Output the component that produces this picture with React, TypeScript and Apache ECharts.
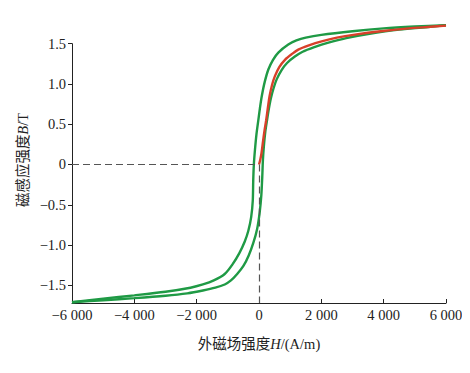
import React, { useEffect, useRef } from "react";
import * as echarts from "echarts";

// Descending branch of the hysteresis loop (H in A/m, B in T)
const upperH = [6000, 5000, 4000, 3000, 2000, 1500, 1200, 940, 620, 450, 300, 180, 90, 30, -20, -80, -130, -165, -185, -200, -250, -340, -460, -630, -850, -1100, -1450, -1800, -2200, -3000, -4000, -5000, -6000];
const upperB = [1.73, 1.713, 1.69, 1.655, 1.61, 1.575, 1.54, 1.49, 1.39, 1.3, 1.18, 1.02, 0.85, 0.7, 0.555, 0.38, 0.18, 0.0, -0.2, -0.45, -0.65, -0.82, -0.96, -1.1, -1.24, -1.36, -1.44, -1.49, -1.53, -1.58, -1.625, -1.665, -1.71];

// Ascending branch
const lowerH = [-6000, -5000, -4000, -3000, -2300, -1800, -1400, -1100, -900, -700, -500, -330, -180, -60, 20, 75, 105, 125, 155, 200, 260, 320, 380, 470, 570, 720, 900, 1150, 1400, 1800, 2200, 2800, 3500, 4500, 5500, 6000];
const lowerB = [-1.71, -1.685, -1.66, -1.63, -1.6, -1.565, -1.53, -1.49, -1.44, -1.36, -1.26, -1.13, -0.97, -0.8, -0.6, -0.38, -0.15, 0.05, 0.22, 0.4, 0.556, 0.7, 0.82, 0.95, 1.06, 1.17, 1.26, 1.34, 1.4, 1.46, 1.51, 1.57, 1.62, 1.675, 1.71, 1.73];

// Initial magnetization curve
const initH = [0, 40, 80, 130, 180, 230, 290, 340, 420, 513, 650, 833, 1050, 1260, 1600, 2010, 2500, 3077, 3900, 4800, 5500, 6000];
const initB = [0, 0.06, 0.14, 0.29, 0.43, 0.55, 0.72, 0.85, 0.99, 1.1, 1.21, 1.3, 1.37, 1.427, 1.48, 1.53, 1.575, 1.613, 1.655, 1.69, 1.71, 1.725];

const yTicks = [-1.5, -1.0, -0.5, 0, 0.5, 1.0, 1.5];
const X_MIN = -6000;
const X_MAX = 6000;
const Y_MIN = -1.72;
const Y_MAX = 1.5;

const zip = (h: number[], b: number[]) => h.map((v, i) => [v, b[i]]);

const FONT = "'Liberation Serif', 'Noto Sans CJK SC', serif";

const fmtX = (v: number) => {
  if (v === 0) return "0";
  const a = Math.abs(v);
  const s = a >= 1000 ? Math.floor(a / 1000) + " " + String(a % 1000).padStart(3, "0") : String(a);
  return (v < 0 ? "\u2212" : "") + s;
};
const fmtY = (v: number) => {
  if (v === 0) return "0";
  return (v < 0 ? "\u2212" : "") + Math.abs(v).toFixed(1);
};

export default function App() {
  const ref = useRef<HTMLDivElement>(null);
  useEffect(() => {
    if (!ref.current) return;
    const chart = echarts.init(ref.current, null, { renderer: "svg" });
    const green = "#1f9a45";
    const red = "#d8402a";
    const ink = "#222";
    chart.setOption({
      animation: false,
      backgroundColor: "#ffffff",
      grid: { left: 72, right: 24, top: 43.7, bottom: 70 },
      graphic: [
        {
          type: "text",
          x: 23,
          y: 160,
          rotation: Math.PI / 2,
          style: {
            text: "磁感应强度{i|B}/T",
            fill: ink,
            font: "14.5px " + FONT,
            align: "center",
            verticalAlign: "middle",
            rich: { i: { fontStyle: "italic", fontFamily: FONT, fontSize: 14.5, fill: ink } },
          },
        },
      ],
      xAxis: {
        type: "value",
        min: X_MIN,
        max: X_MAX,
        interval: 2000,
        splitLine: { show: false },
        axisLine: { show: true, onZero: false, lineStyle: { color: ink, width: 1 } },
        axisTick: { show: true, inside: true, length: 4, lineStyle: { color: ink } },
        axisLabel: { formatter: fmtX, color: ink, fontFamily: FONT, fontSize: 14.5, margin: 5 },
        name: "外磁场强度{i|H}/(A/m)",
        nameLocation: "middle",
        nameGap: 34,
        nameTextStyle: {
          color: ink,
          fontFamily: FONT,
          fontSize: 14.5,
          rich: { i: { fontStyle: "italic", fontFamily: FONT, fontSize: 14.5, color: ink } },
        },
      },
      yAxis: {
        type: "value",
        min: Y_MIN,
        max: Y_MAX,
        splitLine: { show: false },
        axisLine: { show: true, onZero: false, lineStyle: { color: ink, width: 1 } },
        axisTick: { show: true, inside: false, length: 4, customValues: yTicks, lineStyle: { color: ink } },
        axisLabel: { customValues: yTicks, formatter: fmtY, color: ink, fontFamily: FONT, fontSize: 14.5, margin: 6 },
      },
      series: [
        {
          type: "line",
          data: zip(upperH, upperB),
          smooth: 0.3,
          showSymbol: false,
          clip: false,
          lineStyle: { color: green, width: 2.4 },
        },
        {
          type: "line",
          data: zip(lowerH, lowerB),
          smooth: 0.3,
          showSymbol: false,
          clip: false,
          lineStyle: { color: green, width: 2.4 },
        },
        {
          type: "line",
          data: zip(initH, initB),
          smooth: 0.3,
          showSymbol: false,
          clip: false,
          lineStyle: { color: red, width: 2.4 },
          z: 3,
          markLine: {
            silent: true,
            symbol: "none",
            label: { show: false },
            lineStyle: { color: "#555", type: [7, 4], width: 1.2 },
            data: [
              [{ coord: [X_MIN, 0] }, { coord: [0, 0] }],
              [{ coord: [0, 0] }, { coord: [0, Y_MIN] }],
            ],
          },
        },
      ],
    });
    return () => chart.dispose();
  }, []);
  return <div ref={ref} style={{ width: 470, height: 373, margin: -8 }} />;
}
